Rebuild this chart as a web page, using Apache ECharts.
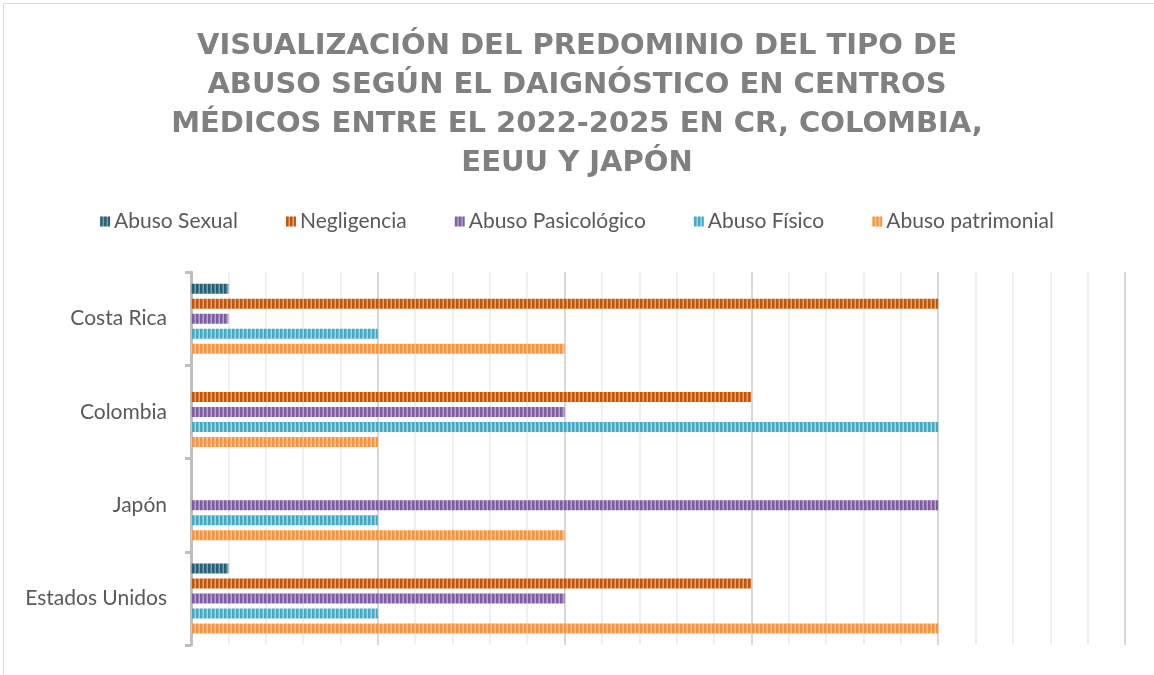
<!DOCTYPE html>
<html>
<head>
<meta charset="utf-8">
<title>Predominio del tipo de abuso</title>
<script src="https://cdn.jsdelivr.net/npm/echarts@6/dist/echarts.min.js"></script>
<style>
  html, body { margin: 0; padding: 0; background: #fff; }
  #main { width: 1154px; height: 675px; }
</style>
</head>
<body>
<div id="main"></div>
<script>
// datos
var paises = ["Costa Rica", "Colombia", "Japón", "Estados Unidos"];
var abusoSexual = [1, null, null, 1];
var negligencia = [20, 15, null, 15];
var abusoPsico = [1, 10, 20, 10];
var abusoFisico = [5, 20, 5, 5];
var abusoPatrimonial = [10, 5, 10, 20];

var titulo = "VISUALIZACIÓN DEL PREDOMINIO DEL TIPO DE\nABUSO SEGÚN EL DAIGNÓSTICO EN CENTROS\nMÉDICOS ENTRE EL 2022-2025 EN CR, COLOMBIA,\nEEUU Y JAPÓN";

// relleno de rayas verticales (como el patron de Excel)
function rayas(oscuro, claro, medio) {
  var c = document.createElement("canvas");
  c.width = 4;
  c.height = 4;
  var ctx = c.getContext("2d");
  ctx.fillStyle = oscuro;
  ctx.fillRect(0, 0, 2, 4);
  ctx.fillStyle = medio;
  ctx.fillRect(2, 0, 1, 4);
  ctx.fillStyle = claro;
  ctx.fillRect(3, 0, 1, 4);
  return { image: c, repeat: "repeat" };
}

var estilos = [
  { name: "Abuso Sexual", data: abusoSexual, fill: rayas("#255f72", "#7aa3b0", "#4d8193") },
  { name: "Negligencia", data: negligencia, fill: rayas("#c0560c", "#e9a272", "#d67b3d") },
  { name: "Abuso Pasicológico", data: abusoPsico, fill: rayas("#7d5c9f", "#b9a5d0", "#9b81b8") },
  { name: "Abuso Físico", data: abusoFisico, fill: rayas("#46a9c4", "#a0d5e4", "#72bfd4") },
  { name: "Abuso patrimonial", data: abusoPatrimonial, fill: rayas("#f79441", "#fcc697", "#f9ad6c") }
];

var chart = echarts.init(document.getElementById("main"));

var option = {
  animation: false,
  backgroundColor: "#fff",
  title: {
    text: titulo,
    left: "center",
    top: 22,
    textStyle: {
      fontFamily: "DejaVu Sans",
      fontWeight: "bold",
      fontSize: 29,
      lineHeight: 39,
      color: "#808080"
    }
  },
  legend: {
    top: 206,
    left: "center",
    icon: "rect",
    itemWidth: 10,
    itemHeight: 10,
    itemGap: 48,
    textStyle: {
      fontFamily: "Lato",
      fontSize: 21,
      color: "#595959",
      padding: [0, 0, 0, -1]
    },
    data: estilos.map(function (s) { return s.name; })
  },
  grid: {
    left: 191,
    right: 29,
    top: 272,
    bottom: 30
  },
  xAxis: {
    type: "value",
    min: 0,
    max: 25,
    interval: 5,
    axisLabel: { show: false },
    axisLine: { show: false },
    axisTick: { show: false },
    splitLine: { lineStyle: { color: "#d9d9d9", width: 2 } },
    minorTick: { show: false, splitNumber: 5 },
    minorSplitLine: { show: true, lineStyle: { color: "#f0f0f0", width: 2 } }
  },
  yAxis: {
    type: "category",
    inverse: true,
    data: paises,
    axisLine: { lineStyle: { color: "#bfbfbf", width: 3 } },
    axisTick: { show: true, length: 6, lineStyle: { color: "#bfbfbf", width: 3 } },
    axisLabel: {
      margin: 24,
      fontFamily: "Lato",
      fontSize: 21,
      color: "#595959"
    }
  },
  graphic: [{
    type: "rect",
    left: 1,
    top: 1,
    shape: { width: 1151, height: 672 },
    style: { fill: "none", stroke: "#d9d9d9", lineWidth: 1 },
    silent: true
  }],
  series: estilos.map(function (s) {
    return {
      name: s.name,
      type: "bar",
      data: s.data,
      barWidth: 10,
      barGap: "50%",
      barCategoryGap: "25%",
      itemStyle: { color: s.fill }
    };
  })
};

chart.setOption(option);
</script>
</body>
</html>
